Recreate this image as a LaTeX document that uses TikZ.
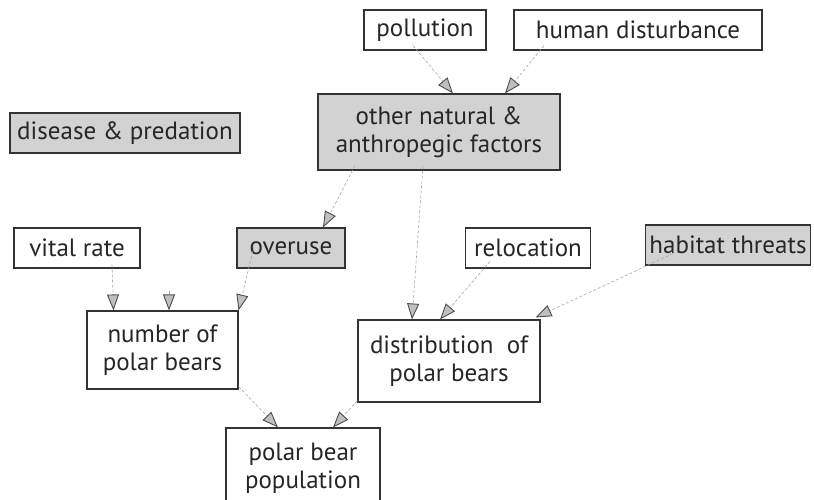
\documentclass[tikz,border=0pt]{standalone}
\usepackage{fontspec}
\setmainfont{PT Sans}
\usetikzlibrary{arrows.meta}
\begin{document}
\begin{tikzpicture}[x=1pt,y=-1pt,
  box/.style={draw=black!80,line width=1.1pt,inner sep=0pt,align=center,font=\fontsize{25}{28}\selectfont,text=black!85},
  gbox/.style={box,fill=gray!35},
  conn/.style={draw=gray!70,line width=0.6pt,dash pattern=on 3pt off 2pt,
    -{Triangle[length=16pt,width=12pt,fill=gray!50,color=black!70,line width=0.9pt]}}
]
\useasboundingbox (0,0) rectangle (814,499);
\clip (0,0) rectangle (814,499);
\node[box,minimum width=122pt,minimum height=40pt] (pol) at (425,30) {pollution};
\node[box,minimum width=248pt,minimum height=40pt] (hum) at (638,30) {human disturbance};
\node[gbox,minimum width=242pt,minimum height=76pt] (oth) at (439,132) {other natural \&\\anthropegic factors};
\node[gbox,minimum width=230pt,minimum height=40pt] (dis) at (125,133) {disease \& predation};
\node[box,minimum width=126pt,minimum height=40pt] (vit) at (77,248) {vital rate};
\node[gbox,minimum width=108pt,minimum height=40pt] (ove) at (291,248) {overuse};
\node[box,minimum width=125pt,minimum height=40pt] (rel) at (528,248) {relocation};
\node[gbox,minimum width=165pt,minimum height=40pt] (hab) at (728,245) {habitat threats};
\node[box,minimum width=151pt,minimum height=78pt] (num) at (162.5,350) {number of\\polar bears};
\node[box,minimum width=182pt,minimum height=82pt] (dist) at (449,361) {distribution\ \ of\\polar bears};
\node[box,minimum width=154pt,minimum height=96pt,text depth=0pt] (popb) at (303,476) {};
\node[font=\fontsize{25}{28}\selectfont,align=center,text=black!85] (pop) at (303,468) {polar bear\\population};
\coordinate (orph) at (169,291);
\draw[conn] ([xshift=-12pt,yshift=5pt]pol.south) -- ([xshift=14pt]oth.north);
\draw[conn] ([xshift=-94pt,yshift=5pt]hum.south) -- ([xshift=66pt]oth.north);
\draw[conn] ([xshift=-84pt,yshift=5pt]oth.south) -- ([xshift=32pt]ove.north);
\draw[conn] ([xshift=-16pt,yshift=5pt]oth.south) -- ([xshift=-37pt]dist.north);
\draw[conn] ([xshift=35pt,yshift=4pt]vit.south) -- ([xshift=-49pt]num.north);
\draw[conn] (orph) -- (orph |- num.north);
\draw[conn] ([xshift=-37pt,yshift=22pt]ove.south) -- (num.north east);
\draw[conn] ([xshift=-38pt,yshift=7pt]rel.south) -- ([xshift=-9pt]dist.north);
\draw[conn] ([xshift=-55pt,yshift=12pt]hab.south) -- ([xshift=-5pt,yshift=2pt]dist.north east);
\draw[conn] ([yshift=3pt]num.south east) -- ([xshift=-25pt]popb.north);
\draw[conn] ([yshift=2pt]dist.south west) -- ([xshift=30pt]popb.north);
\end{tikzpicture}
\end{document}
